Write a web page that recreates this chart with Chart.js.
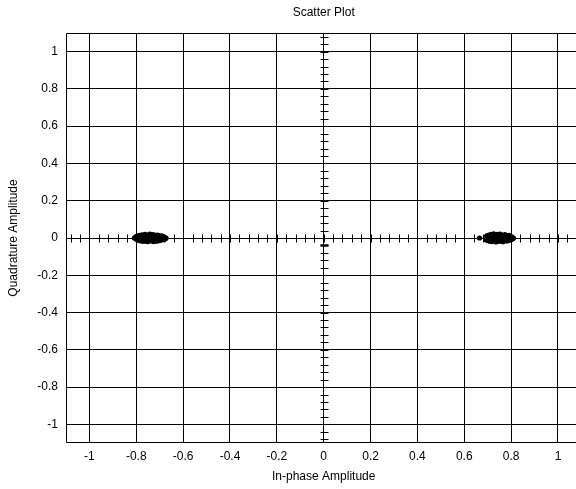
<!DOCTYPE html>
<html>
<head>
<meta charset="utf-8">
<script src="https://cdn.jsdelivr.net/npm/chart.js@4/dist/chart.umd.min.js"></script>
<style>
html,body{margin:0;padding:0;background:#fff;overflow:hidden;}
#wrap{width:584px;height:489px;}
</style>
</head>
<body>
<div id="wrap"><canvas id="c" width="584" height="489"></canvas></div>
<script>
// ---- data ----
const chartTitle = "Scatter Plot";
const xTitle = "In-phase Amplitude";
const yTitle = "Quadrature Amplitude";
const xTicks = [-1, -0.8, -0.6, -0.4, -0.2, 0, 0.2, 0.4, 0.6, 0.8, 1];
const yTicks = [-1, -0.8, -0.6, -0.4, -0.2, 0, 0.2, 0.4, 0.6, 0.8, 1];

const leftI = [-0.808,-0.803,-0.800,-0.796,-0.793,-0.790,-0.787,-0.784,-0.781,-0.778,-0.775,-0.772,-0.769,-0.766,-0.763,-0.760,-0.757,-0.754,-0.751,-0.748,-0.745,-0.742,-0.739,-0.736,-0.733,-0.730,-0.727,-0.724,-0.721,-0.718,-0.715,-0.712,-0.709,-0.706,-0.703,-0.700,-0.697,-0.694,-0.691,-0.688,-0.685,-0.682,-0.679,-0.676,-0.673,-0.760,-0.740,-0.720,-0.770,-0.730];
const leftQ = [0.000,0.006,-0.007,0.010,-0.011,0.002,0.014,-0.015,0.005,-0.004,0.017,-0.018,0.009,-0.010,0.019,-0.017,0.001,0.015,-0.019,0.008,-0.006,0.021,-0.016,0.012,-0.013,0.018,-0.019,0.004,0.016,-0.015,0.010,-0.017,0.015,-0.008,0.013,-0.014,0.006,-0.011,0.011,-0.005,0.008,-0.009,0.003,-0.004,0.000,0.006,-0.003,0.000,0.000,0.003];

const rightI = [0.665,0.690,0.693,0.696,0.699,0.702,0.705,0.708,0.711,0.714,0.717,0.720,0.723,0.726,0.729,0.732,0.735,0.738,0.741,0.744,0.747,0.750,0.753,0.756,0.759,0.762,0.765,0.768,0.771,0.774,0.777,0.780,0.783,0.786,0.789,0.792,0.795,0.798,0.801,0.804,0.807,0.810,0.720,0.740,0.760,0.780,0.700];
const rightQ = [0.000,0.002,-0.009,0.011,-0.013,0.006,0.016,-0.017,0.003,0.019,-0.019,0.010,-0.008,0.022,-0.015,0.014,-0.021,0.005,0.020,-0.018,0.012,-0.011,0.021,-0.017,0.007,0.016,-0.020,0.009,-0.009,0.018,-0.014,0.013,-0.016,0.010,-0.010,0.014,-0.012,0.007,-0.008,0.005,-0.004,0.000,0.000,-0.004,0.001,0.000,0.000];

const points = leftI.map((x, i) => ({x: x, y: leftQ[i]}))
  .concat(rightI.map((x, i) => ({x: x, y: rightQ[i]})));

const FONT = "'Liberation Sans', Arial, sans-serif";
const fmt = v => String(Math.round(v * 10) / 10);

// frame + axis crosshair minor ticks, drawn via the chart's own scales
const framePlugin = {
  id: 'frame',
  beforeDatasetsDraw(chart) {
    const {ctx, scales: {x, y}} = chart;
    ctx.save();
    ctx.strokeStyle = '#000';
    ctx.lineWidth = 1;
    const x0 = Math.round(x.getPixelForValue(0)) + 0.5;
    const y0 = Math.round(y.getPixelForValue(0)) + 0.5;
    ctx.beginPath();
    for (let k = -27; k <= 27; k++) {
      const v = k * 0.04;
      const px = Math.round(x.getPixelForValue(v)) + 0.5;
      ctx.moveTo(px, y0 - 4); ctx.lineTo(px, y0 + 4);
      const py = Math.round(y.getPixelForValue(v)) + 0.5;
      ctx.moveTo(x0 - 4, py); ctx.lineTo(x0 + 4, py);
    }
    ctx.stroke();
    const pyd = Math.round(y.getPixelForValue(-0.04)) + 0.5;
    ctx.lineWidth = 2.5;
    ctx.beginPath();
    ctx.moveTo(x0 - 4, pyd); ctx.lineTo(x0 + 4, pyd);
    ctx.stroke();
    ctx.restore();
  },
  afterDraw(chart) {
    const {ctx, chartArea: a} = chart;
    const l = Math.round(a.left) + 0.5, t = Math.round(a.top) + 0.5;
    const r = Math.round(a.right) + 0.5, b = Math.round(a.bottom) - 0.5;
    ctx.save();
    ctx.strokeStyle = '#000';
    ctx.lineWidth = 1;
    ctx.beginPath();
    ctx.moveTo(r, t); ctx.lineTo(l, t); ctx.lineTo(l, b); ctx.lineTo(r, b);
    ctx.stroke();
    ctx.restore();
  }
};

new Chart(document.getElementById('c'), {
  type: 'scatter',
  data: {
    datasets: [{
      data: points,
      pointRadius: 2.6,
      pointBackgroundColor: '#000',
      pointBorderWidth: 0,
      pointHoverRadius: 2.6
    }]
  },
  options: {
    responsive: false,
    animation: false,
    layout: {padding: 0},
    plugins: {
      legend: {display: false},
      tooltip: {enabled: false},
      title: {
        display: true,
        text: chartTitle,
        fullSize: false,
        color: '#000',
        font: {family: FONT, size: 12, weight: 'normal', lineHeight: 1.2},
        padding: {top: 5, bottom: 13.6}
      }
    },
    scales: {
      x: {
        type: 'linear',
        min: -1.1, max: 1.1,
        afterBuildTicks(s) { s.ticks = xTicks.map(v => ({value: v})); },
        afterFit(s) { s.height = 46; },
        grid: {color: '#000', lineWidth: 1, drawTicks: false},
        border: {display: false},
        ticks: {color: '#000', padding: 6, maxRotation: 0, autoSkip: false,
                font: {family: FONT, size: 12}, callback: fmt},
        title: {display: true, text: xTitle, color: '#000',
                font: {family: FONT, size: 12, lineHeight: 1.2},
                padding: {top: 0, bottom: 5}}
      },
      y: {
        type: 'linear',
        min: -1.1, max: 1.1,
        afterBuildTicks(s) { s.ticks = yTicks.map(v => ({value: v})); },
        afterFit(s) { s.width = 66; },
        grid: {color: '#000', lineWidth: 1, drawTicks: false},
        border: {display: false},
        ticks: {color: '#000', padding: 8, autoSkip: false,
                font: {family: FONT, size: 12}, callback: fmt},
        title: {display: true, text: yTitle, color: '#000',
                font: {family: FONT, size: 12, lineHeight: 1.2},
                padding: {top: 6, bottom: 0}}
      }
    }
  },
  plugins: [framePlugin]
});
</script>
</body>
</html>
